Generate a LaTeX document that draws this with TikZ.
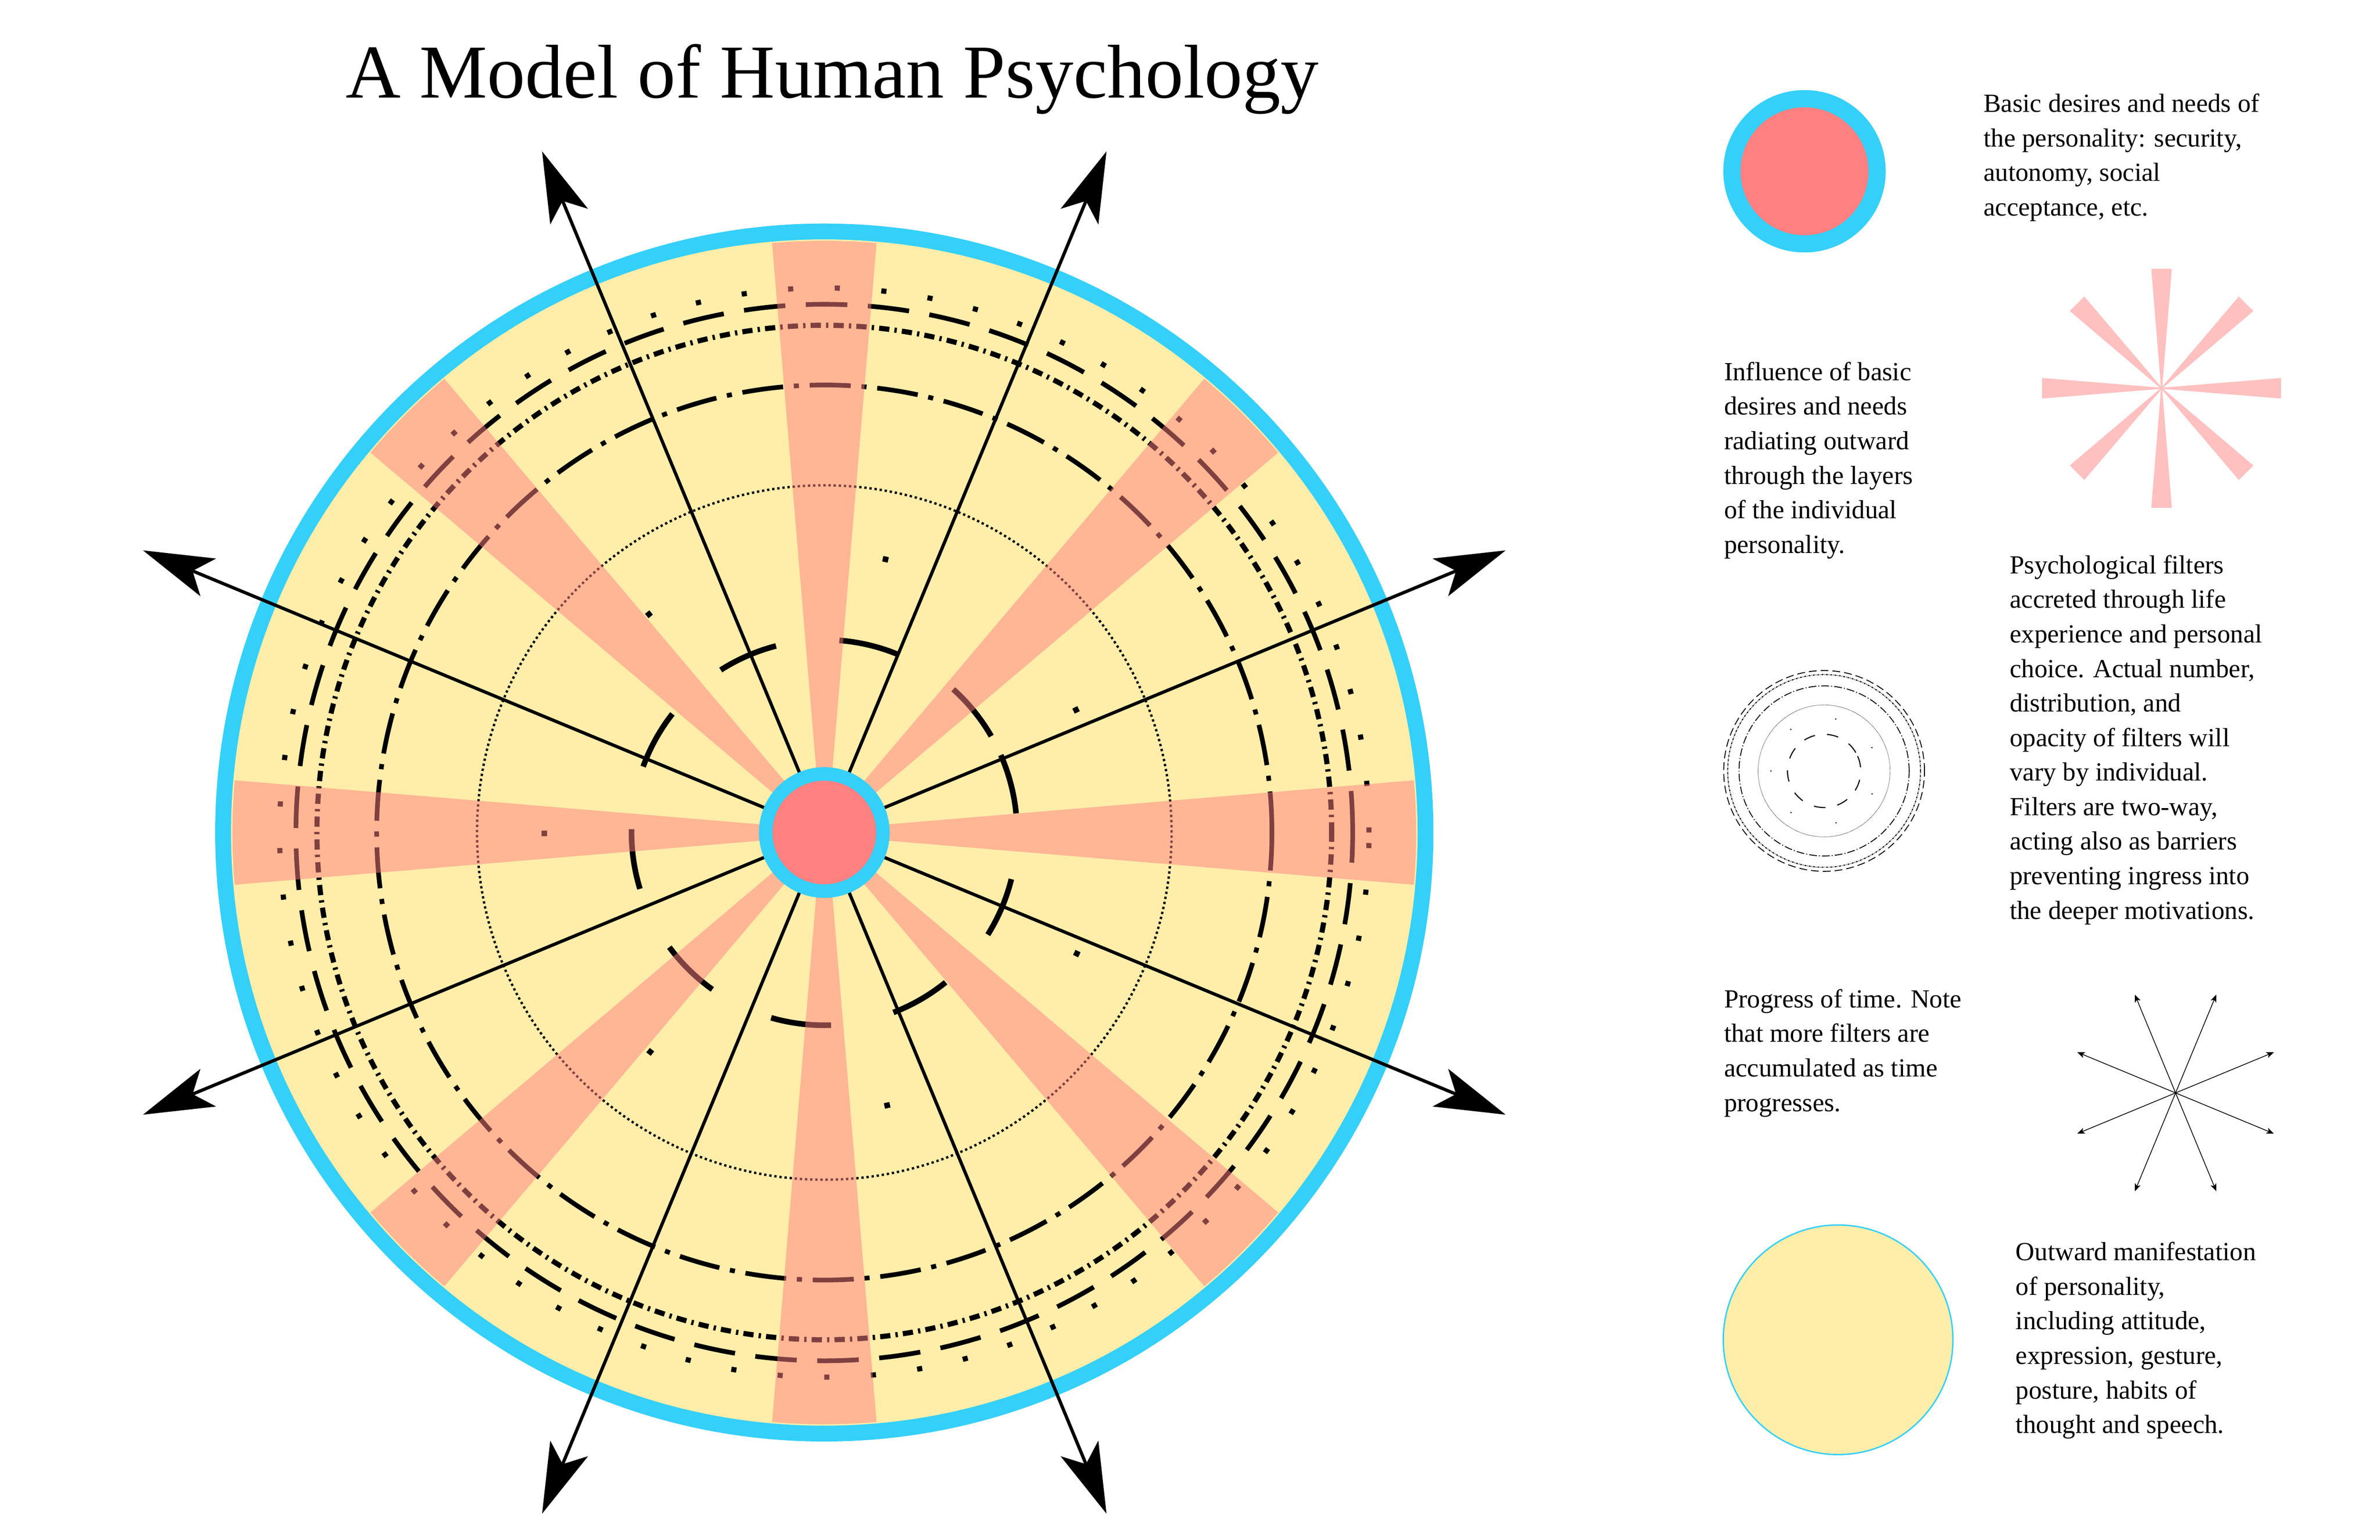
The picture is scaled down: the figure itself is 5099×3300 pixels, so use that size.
\documentclass[tikz,border=0pt]{standalone}
\usepackage{fontspec}
\setmainfont{Liberation Serif}
\usetikzlibrary{arrows.meta}
\definecolor{ringblue}{HTML}{35D0FA}
\definecolor{corepink}{HTML}{FF8080}
\definecolor{pyellow}{HTML}{FFEDAA}
\definecolor{rayred}{HTML}{FF8080}
\definecolor{raylight}{HTML}{FFC0C0}
\newcommand\filtrings[1]{%
 \pgfmathsetmacro\fqq{0.25*#1}%
 \pgfmathsetmacro\fqa{10*\fqq}\pgfmathsetmacro\fqb{89*\fqq}\pgfmathsetmacro\fqc{44*\fqq}%
 \draw[line width=\fqa pt, dash pattern=on \fqb pt off \fqc pt] (0,0) circle ({1132*#1});
 \pgfmathsetmacro\fqa{11*\fqq}\pgfmathsetmacro\fqb{22*\fqq}\pgfmathsetmacro\fqc{11*\fqq}\pgfmathsetmacro\fqd{5*\fqq}%
 \draw[line width=\fqa pt, dash pattern=on \fqb pt off \fqc pt on \fqd pt off \fqc pt] (0,0) circle ({1087*#1});
 \pgfmathsetmacro\fqa{10*\fqq}\pgfmathsetmacro\fqb{88*\fqq}\pgfmathsetmacro\fqc{23*\fqq}\pgfmathsetmacro\fqd{11*\fqq}%
 \draw[line width=\fqa pt, dash pattern=on \fqb pt off \fqc pt on \fqd pt off \fqc pt] (0,0) circle ({959*#1});
 \pgfmathsetmacro\fqa{5*\fqq}\pgfmathsetmacro\fqb{6*\fqq}%
 \draw[line width=\fqa pt, dash pattern=on \fqa pt off \fqb pt] (0,0) circle ({744*#1});
 \pgfmathsetmacro\fqa{12*\fqq}%
 \foreach \s in {25.4,76.8,128.2,179.6,231,282.4,333.8}
   \draw[line width=\fqa pt] ({\s}:{600*#1}) arc[start angle=\s, delta angle=1.15, radius={600*#1}];
 \foreach \s in {5.7,30,67.5,104.5,142,179,216.5,254,291,328}
   \draw[line width=\fqa pt] ({\s}:{413*#1}) arc[start angle=\s, delta angle=18, radius={413*#1}];
}
\tikzset{
 spoke/.style={line width=1.75pt, -{Stealth[length=37.75pt, width=21.75pt, inset=9pt]}},
 smallspoke/.style={line width=0.4pt, -{Stealth[length=4pt, width=3.2pt, inset=1pt]}},
 legend/.style={anchor=north west, inner sep=0pt, align=left, font=\fontsize{14}{18.5}\selectfont},
}
\begin{document}
\begin{tikzpicture}[x=0.25pt,y=0.25pt]
\useasboundingbox (0,0) rectangle (5099,-3300);
\node[anchor=base, inner sep=0pt, font=\fontsize{40.8}{48}\selectfont] (title) at (1783,-210) {A Model of Human Psychology};
% main diagram
\begin{scope}[shift={(1766,-1784)}]
 \fill[ringblue] (0,0) circle (1305);
 \fill[pyellow] (0,0) circle (1271);
 \draw[line width=2.75pt, dash pattern=on 2.75pt off 22.25pt] (0,0) circle (1167);
 \filtrings{1}
 \begin{scope}
  \clip (0,0) circle (1268);
  \foreach \a in {0,45,...,315}
   \fill[rayred, opacity=.5, rotate=\a] (0,-6) -- (1300,-115) -- (1300,115) -- (0,6) -- cycle;
 \end{scope}
 \coordinate (core) at (0,0);
 \foreach \a in {22.5,67.5,...,337.5}
  \draw[spoke] (core) -- (\a:1580) coordinate (tip\a);
 \fill[ringblue] (core) circle (140);
 \fill[corepink] (core) circle (111);
\end{scope}
% legend icons
\fill[ringblue] (3866,-367) circle (174);
\fill[corepink] (3866,-367) circle (137);
\begin{scope}[shift={(4631,-832)}]
 \foreach \a in {0,45,...,315}
  \fill[raylight, rotate=\a] (0,-1.2) -- (256,-22) -- (256,22) -- (0,1.2) -- cycle;
\end{scope}
\begin{scope}[shift={(3908,-1652)}]
 \filtrings{0.19}
\end{scope}
\begin{scope}[shift={(4661,-2342)}]
 \coordinate (sc) at (0,0);
 \foreach \a in {22.5,67.5,...,337.5}
  \draw[smallspoke] (sc) -- (\a:228);
\end{scope}
\fill[pyellow, draw=ringblue, line width=0.75pt] (3938,-2871) circle (246);
% legend texts
\node[legend] (t1) at (4249,-200) {Basic desires and needs of\\the personality: security,\\autonomy, social\\acceptance, etc.};
\node[legend] (t2) at (3693,-775) {Influence of basic\\desires and needs\\radiating outward\\through the layers\\of the individual\\personality.};
\node[legend] (t3) at (4305,-1189) {Psychological filters\\accreted through life\\experience and personal\\choice. Actual number,\\distribution, and\\opacity of filters will\\vary by individual.\\Filters are two-way,\\acting also as barriers\\preventing ingress into\\the deeper motivations.};
\node[legend] (t4) at (3693,-2119) {Progress of time. Note\\that more filters are\\accumulated as time\\progresses.};
\node[legend] (t5) at (4318,-2661) {Outward manifestation\\of personality,\\including attitude,\\expression, gesture,\\posture, habits of\\thought and speech.};
\end{tikzpicture}
\end{document}
